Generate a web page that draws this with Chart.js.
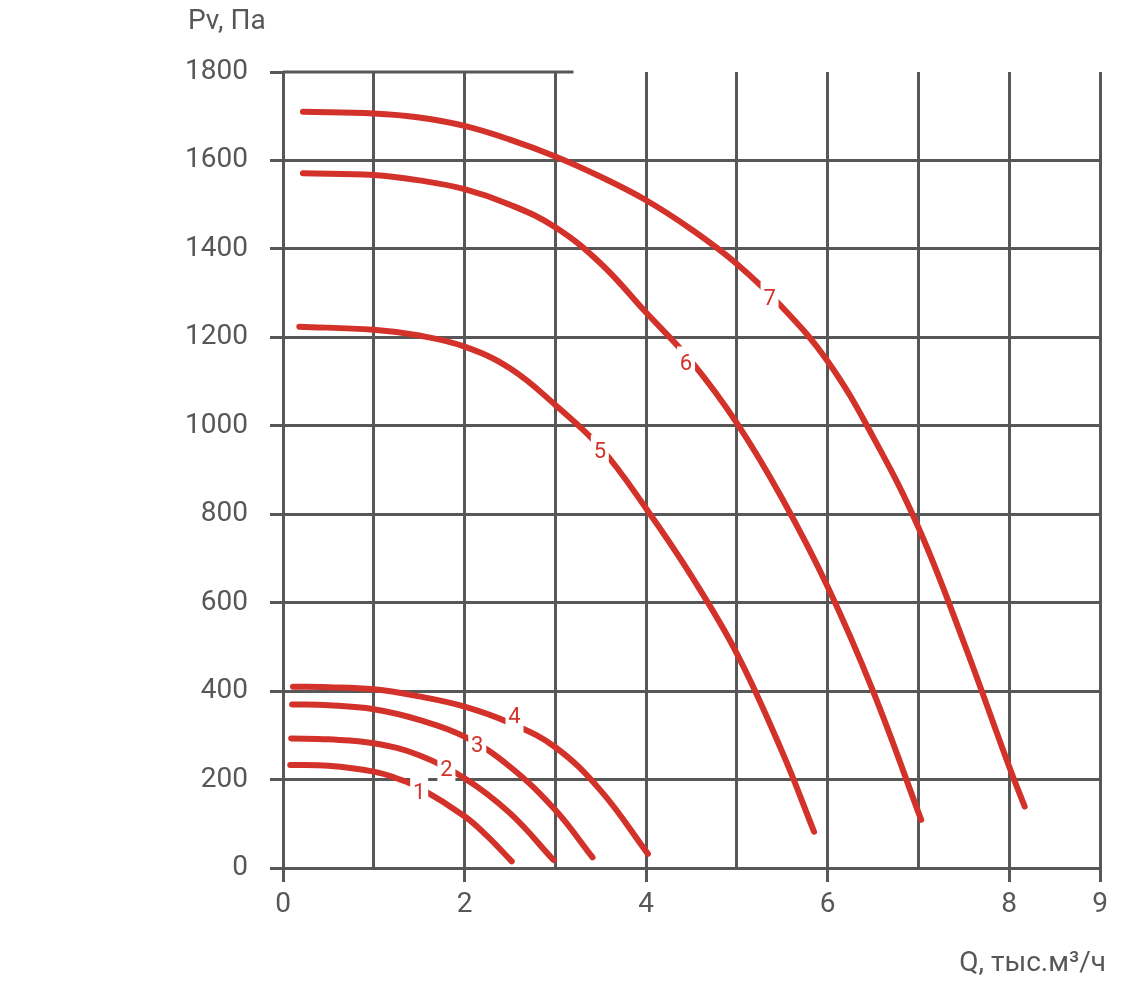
<!DOCTYPE html>
<html>
<head>
<meta charset="utf-8">
<script src="https://cdn.jsdelivr.net/npm/chart.js@4.4.1/dist/chart.umd.min.js"></script>
<style>
    html, body { margin: 0; padding: 0; background: #ffffff; }
    #wrap { width: 1148px; height: 991px; }
</style>
</head>
<body>
<div id="wrap"><canvas id="grafico"></canvas></div>
<script>
// curvas Pv(Q), Q en miles m3/h, Pv en Pa
const curva1Q = [0.08, 0.5, 1, 1.25, 1.5, 2, 2.25, 2.52];
const curva1P = [233, 231, 218, 203, 182, 117, 72, 15];
const curva2Q = [0.09, 0.5, 1, 1.5, 2, 2.5, 2.98];
const curva2P = [293, 291, 282, 255, 203, 124, 18];
const curva3Q = [0.1, 0.5, 1, 1.5, 2, 2.5, 3, 3.41];
const curva3P = [370, 368, 359, 335, 297, 229, 131, 24];
const curva4Q = [0.11, 0.5, 1, 1.5, 2, 2.5, 3, 3.5, 4.02];
const curva4P = [410, 409, 404, 388, 365, 328, 273, 175, 32];
const curva5Q = [0.18, 1, 1.5, 2, 2.5, 3, 3.5, 4, 4.5, 5, 5.5, 5.85];
const curva5P = [1224, 1217, 1204, 1179, 1130, 1047, 950, 813, 660, 485, 262, 82];
const curva6Q = [0.22, 1, 1.5, 2, 2.5, 3, 3.5, 4, 4.5, 5, 5.5, 6, 6.5, 7.03];
const curva6P = [1571, 1567, 1555, 1535, 1500, 1449, 1367, 1256, 1145, 1006, 835, 636, 400, 109];
const curva7Q = [0.22, 1, 1.5, 2, 2.5, 3, 3.5, 4, 4.5, 5, 5.5, 6, 6.5, 7, 7.5, 8, 8.17];
const curva7P = [1710, 1706, 1697, 1678, 1647, 1609, 1563, 1510, 1444, 1366, 1268, 1146, 975, 770, 510, 229, 139];

const etiquetas = ['1', '2', '3', '4', '5', '6', '7'];
const etiquetaQ = [1.5, 1.8, 2.14, 2.55, 3.49, 4.44, 5.36];
const etiquetaP = [170, 222, 278, 342, 941, 1141, 1287];

const ticksX = [0, 2, 4, 6, 8, 9];
const lineaSuperiorHasta = 3.2; // la linea de 1800 solo llega hasta aqui

const ROJO = '#d2322a';
const GRIS = '#575757';
const FUENTE = 'Roboto, "DejaVu Sans", sans-serif';

const curvas = [
    [curva1Q, curva1P], [curva2Q, curva2P], [curva3Q, curva3P], [curva4Q, curva4P],
    [curva5Q, curva5P], [curva6Q, curva6P], [curva7Q, curva7P]
];

const datasets = curvas.map((c, i) => ({
    label: etiquetas[i],
    data: c[0].map((q, k) => ({ x: q, y: c[1][k] })),
    showLine: true,
    borderColor: ROJO,
    borderWidth: 6,
    borderCapStyle: 'round',
    pointRadius: 0,
    tension: 0.4
}));

const extras = {
    id: 'extras',
    beforeDatasetsDraw(chart) {
        const ctx = chart.ctx, x = chart.scales.x, y = chart.scales.y;
        const py = y.getPixelForValue(1800);
        ctx.save();
        ctx.strokeStyle = GRIS;
        ctx.lineWidth = 3;
        ctx.beginPath();
        ctx.moveTo(x.getPixelForValue(0), py);
        ctx.lineTo(x.getPixelForValue(lineaSuperiorHasta), py);
        ctx.stroke();
        ctx.restore();
    },
    afterDatasetsDraw(chart) {
        const ctx = chart.ctx, x = chart.scales.x, y = chart.scales.y;
        ctx.save();
        ctx.font = '22px ' + FUENTE;
        ctx.textAlign = 'center';
        ctx.textBaseline = 'middle';
        etiquetas.forEach((t, i) => {
            const px = x.getPixelForValue(etiquetaQ[i]);
            const py = y.getPixelForValue(etiquetaP[i]);
            ctx.fillStyle = '#ffffff';
            ctx.fillRect(px - 9, py - 17, 18, 34);
            ctx.fillStyle = ROJO;
            ctx.fillText(t, px, py + 1);
        });
        // titulos de ejes
        ctx.fillStyle = GRIS;
        ctx.font = '28px ' + FUENTE;
        ctx.textBaseline = 'alphabetic';
        ctx.textAlign = 'left';
        ctx.fillText('Pv, Па', 188, 29);
        ctx.textAlign = 'right';
        ctx.fillText('Q, тыс.м³/ч', 1106, 971);
        ctx.restore();
    }
};

new Chart(document.getElementById('grafico'), {
    type: 'scatter',
    data: { datasets },
    plugins: [extras],
    options: {
        responsive: true,
        maintainAspectRatio: false,
        animation: false,
        layout: { padding: { top: 72, right: 48, left: 0, bottom: 0 } },
        plugins: { legend: { display: false }, tooltip: { enabled: false } },
        scales: {
            x: {
                type: 'linear',
                min: 0,
                max: 9,
                afterFit: s => { s.height = 123; },
                afterBuildTicks: s => { s.ticks = [0, 1, 2, 3, 4, 5, 6, 7, 8, 9].map(v => ({ value: v })); },
                border: { display: false },
                grid: {
                    color: GRIS,
                    lineWidth: 3,
                    tickLength: 14,
                    tickWidth: 3,
                    tickColor: c => ticksX.includes(c.tick.value) ? GRIS : 'rgba(0,0,0,0)'
                },
                ticks: {
                    autoSkip: false,
                    maxRotation: 0,
                    padding: 6,
                    color: GRIS,
                    font: { family: FUENTE, size: 28 },
                    callback: v => ticksX.includes(v) ? String(v) : ''
                }
            },
            y: {
                type: 'linear',
                min: 0,
                max: 1800,
                afterFit: s => { s.width = 283; },
                border: { display: false },
                grid: {
                    color: c => c.tick.value === 1800 ? 'rgba(0,0,0,0)' : GRIS,
                    lineWidth: 3,
                    tickLength: 13,
                    tickWidth: 3,
                    tickColor: GRIS
                },
                ticks: {
                    stepSize: 200,
                    padding: 22,
                    color: GRIS,
                    font: { family: FUENTE, size: 28 },
                    callback: v => String(v)
                }
            }
        }
    }
});
</script>
</body>
</html>
